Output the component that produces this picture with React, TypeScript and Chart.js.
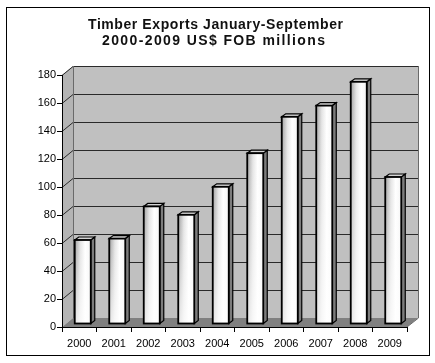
import React, { useEffect, useRef } from "react";
import { Chart, registerables } from "chart.js";

Chart.register(...registerables);

const categories = ["2000", "2001", "2002", "2003", "2004", "2005", "2006", "2007", "2008", "2009"];
const exportValues = [60, 61, 84, 78, 98, 122, 148, 156, 173, 105];
const titleLines = ["Timber Exports January-September", "2000-2009 US$ FOB millions"];
const yMin = 0;
const yMax = 180;
const yStep = 20;

const FONT = "'Liberation Sans', Arial, sans-serif";
const WALL_DX = 11;
const WALL_DY = -9;
const BAR_DX = 3.5;
const BAR_DY = -3;
const BAR_DEPTH_X = 4;
const BAR_DEPTH_Y = -3;

const scenePlugin = {
  id: "scene3d",
  beforeDraw(chart: any) {
    const ctx = chart.ctx as CanvasRenderingContext2D;
    const { left, right, top, bottom } = chart.chartArea;
    const ys = chart.scales.y;
    ctx.save();
    ctx.fillStyle = "#ffffff";
    ctx.fillRect(0, 0, chart.width, chart.height);
    // outer frame
    ctx.strokeStyle = "#000000";
    ctx.lineWidth = 1;
    ctx.strokeRect(6.5, 7.5, 423, 348);

    // back wall
    ctx.fillStyle = "#c0c0c0";
    ctx.fillRect(left + WALL_DX, top + WALL_DY, right - left, bottom - top);
    // left wall
    ctx.fillStyle = "#b4b4b4";
    ctx.beginPath();
    ctx.moveTo(left, top);
    ctx.lineTo(left + WALL_DX, top + WALL_DY);
    ctx.lineTo(left + WALL_DX, bottom + WALL_DY);
    ctx.lineTo(left, bottom);
    ctx.closePath();
    ctx.fill();
    // floor
    ctx.fillStyle = "#808080";
    ctx.beginPath();
    ctx.moveTo(left, bottom);
    ctx.lineTo(left + WALL_DX, bottom + WALL_DY);
    ctx.lineTo(right + WALL_DX, bottom + WALL_DY);
    ctx.lineTo(right, bottom);
    ctx.closePath();
    ctx.fill();

    // gridlines
    ctx.strokeStyle = "#2a2a2a";
    ctx.lineWidth = 1;
    for (let v = yMin + yStep; v <= yMax; v += yStep) {
      const py = Math.round(ys.getPixelForValue(v)) + 0.5;
      ctx.beginPath();
      ctx.moveTo(left, py);
      ctx.lineTo(left + WALL_DX, py + WALL_DY);
      ctx.lineTo(right + WALL_DX, py + WALL_DY);
      ctx.stroke();
    }
    // wall edges
    ctx.strokeStyle = "#6a6a6a";
    ctx.beginPath();
    ctx.moveTo(right + WALL_DX + 0.5, top + WALL_DY);
    ctx.lineTo(right + WALL_DX + 0.5, bottom + WALL_DY);
    ctx.lineTo(right, bottom);
    ctx.stroke();
    ctx.beginPath();
    ctx.moveTo(left + WALL_DX + 0.5, top + WALL_DY);
    ctx.lineTo(left + WALL_DX + 0.5, bottom + WALL_DY);
    ctx.stroke();
    ctx.restore();
  },
  afterDatasetsDraw(chart: any) {
    const ctx = chart.ctx as CanvasRenderingContext2D;
    const meta = chart.getDatasetMeta(0);
    ctx.save();
    meta.data.forEach((el: any) => {
      const p = el.getProps(["x", "y", "base", "width"], true);
      const x0 = p.x - p.width / 2 + BAR_DX;
      const x1 = p.x + p.width / 2 + BAR_DX;
      const yt = p.y + BAR_DY;
      const yb = p.base + BAR_DY;
      // side face
      ctx.fillStyle = "#7c7c7c";
      ctx.beginPath();
      ctx.moveTo(x1, yt);
      ctx.lineTo(x1 + BAR_DEPTH_X, yt + BAR_DEPTH_Y);
      ctx.lineTo(x1 + BAR_DEPTH_X, yb + BAR_DEPTH_Y);
      ctx.lineTo(x1, yb);
      ctx.closePath();
      ctx.fill();
      ctx.strokeStyle = "#000";
      ctx.lineWidth = 1.2;
      ctx.stroke();
      // top face
      ctx.fillStyle = "#d4d4d4";
      ctx.beginPath();
      ctx.moveTo(x0, yt);
      ctx.lineTo(x0 + BAR_DEPTH_X, yt + BAR_DEPTH_Y);
      ctx.lineTo(x1 + BAR_DEPTH_X, yt + BAR_DEPTH_Y);
      ctx.lineTo(x1, yt);
      ctx.closePath();
      ctx.fill();
      ctx.stroke();
      // front face
      const g = ctx.createLinearGradient(x0, 0, x1, 0);
      g.addColorStop(0, "#a0a0a0");
      g.addColorStop(0.35, "#e4e4e4");
      g.addColorStop(0.65, "#ffffff");
      g.addColorStop(1, "#f4f4f4");
      ctx.fillStyle = g;
      ctx.fillRect(x0, yt, x1 - x0, yb - yt);
      const gv = ctx.createLinearGradient(0, yt, 0, yb);
      gv.addColorStop(0, "rgba(255,255,255,0)");
      gv.addColorStop(1, "rgba(255,255,255,0.75)");
      ctx.fillStyle = gv;
      ctx.fillRect(x0, yt, x1 - x0, yb - yt);
      ctx.lineWidth = 1.8;
      ctx.strokeStyle = "#000";
      ctx.strokeRect(x0, yt, x1 - x0, yb - yt);
    });
    ctx.restore();
  },
  afterDraw(chart: any) {
    const ctx = chart.ctx as CanvasRenderingContext2D;
    ctx.save();
    ctx.fillStyle = "#111111";
    ctx.font = `bold 14px ${FONT}`;
    ctx.textBaseline = "alphabetic";
    ctx.textAlign = "left";
    const specs = [
      { left: 88, width: 255, base: 29 },
      { left: 102, width: 223, base: 44.5 },
    ];
    titleLines.forEach((line, i) => {
      const s = specs[i];
      (ctx as any).letterSpacing = "0px";
      const natural = ctx.measureText(line).width;
      const sp = Math.max(0, (s.width - natural) / (line.length - 1));
      (ctx as any).letterSpacing = `${sp}px`;
      ctx.fillText(line, s.left, s.base);
    });
    (ctx as any).letterSpacing = "0px";
    ctx.restore();
  },
};

export default function App() {
  const ref = useRef<HTMLCanvasElement | null>(null);
  useEffect(() => {
    if (!ref.current) return;
    const chart = new Chart(ref.current, {
      type: "bar",
      data: {
        labels: categories,
        datasets: [
          {
            data: exportValues,
            backgroundColor: "rgba(0,0,0,0)",
            borderWidth: 0,
            categoryPercentage: 1,
            barPercentage: 0.464,
          },
        ],
      },
      options: {
        responsive: false,
        animation: false,
        devicePixelRatio: 1,
        layout: { padding: { left: 6, right: 28, top: 75, bottom: 8 } },
        plugins: {
          legend: { display: false },
          title: { display: false },
          tooltip: { enabled: false },
        },
        scales: {
          x: {
            grid: { display: true, drawOnChartArea: false, drawTicks: true, tickLength: 5, color: "#000", offset: true },
            border: { display: true, color: "#000", width: 1 },
            ticks: { font: { family: FONT, size: 11 }, color: "#000", padding: 5, maxRotation: 0, autoSkip: false },
            afterFit: (s: any) => {
              s.height = 28;
            },
          },
          y: {
            min: yMin,
            max: yMax,
            grid: { drawOnChartArea: false, drawTicks: true, tickLength: 5, color: "#000" },
            border: { display: true, color: "#000", width: 1 },
            ticks: { stepSize: yStep, font: { family: FONT, size: 11 }, color: "#000", padding: 1 },
            afterFit: (s: any) => {
              s.width = 56;
            },
          },
        },
      },
      plugins: [scenePlugin],
    });
    return () => chart.destroy();
  }, []);
  return (
    <div style={{ position: "absolute", left: 0, top: 0, width: 435, height: 363, background: "#fff" }}>
      <canvas ref={ref} width={435} height={363} style={{ display: "block", width: 435, height: 363 }} />
    </div>
  );
}
